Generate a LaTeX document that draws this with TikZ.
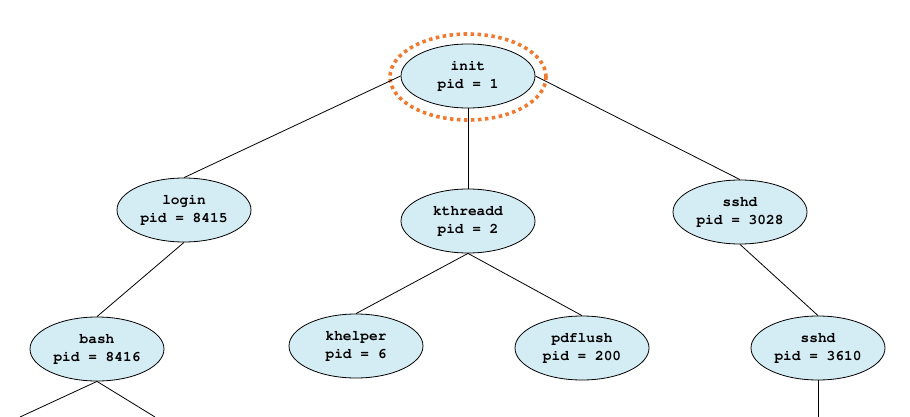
\documentclass[tikz,border=0pt]{standalone}
\usepackage[T1]{fontenc}
\usetikzlibrary{shapes.geometric}
\definecolor{procfill}{HTML}{D4ECF4}
\definecolor{hilite}{HTML}{F07A30}
\begin{document}
\begin{tikzpicture}[x=1pt,y=-1pt,
  proc/.style={ellipse, draw=black, line width=0.8pt, fill=procfill,
    minimum width=134pt, minimum height=64pt, inner sep=0pt,
    align=center, font=\fontfamily{pcr}\fontseries{b}\fontsize{14.5}{18}\selectfont},
  link/.style={draw=black, line width=0.8pt}]
\useasboundingbox (0,0) rectangle (910,417);
\node[proc] (init) at (468,76) {init\\pid = 1};
\draw[hilite, line width=3.6pt, dash pattern=on 3.5pt off 3.5pt]
  (468,77) ellipse [x radius=78pt, y radius=43pt];
\node[proc] (login) at (184,210) {login\\pid = 8415};
\node[proc] (kthreadd) at (468,221) {kthreadd\\pid = 2};
\node[proc] (sshd) at (740,212) {sshd\\pid = 3028};
\node[proc] (bash) at (97,349) {bash\\pid = 8416};
\node[proc] (khelper) at (356,346) {khelper\\pid = 6};
\node[proc] (pdflush) at (582,348) {pdflush\\pid = 200};
\node[proc] (sshdb) at (818,348) {sshd\\pid = 3610};
\coordinate (bl) at (20,417);
\coordinate (br) at (155,417);
\coordinate (sb) at (818,417);
\draw[link] (init.west) -- (login.north);
\draw[link] (init.south) -- (kthreadd.north);
\draw[link] (init.east) -- (sshd.north);
\draw[link] (login.south) -- (bash.north);
\draw[link] (kthreadd.south) -- (khelper.north);
\draw[link] (kthreadd.south) -- (pdflush.north);
\draw[link] (sshd.south) -- (sshdb.north);
\draw[link] (bash.south) -- (bl);
\draw[link] (bash.south) -- (br);
\draw[link] (sshdb.south) -- (sb);
\end{tikzpicture}
\end{document}
